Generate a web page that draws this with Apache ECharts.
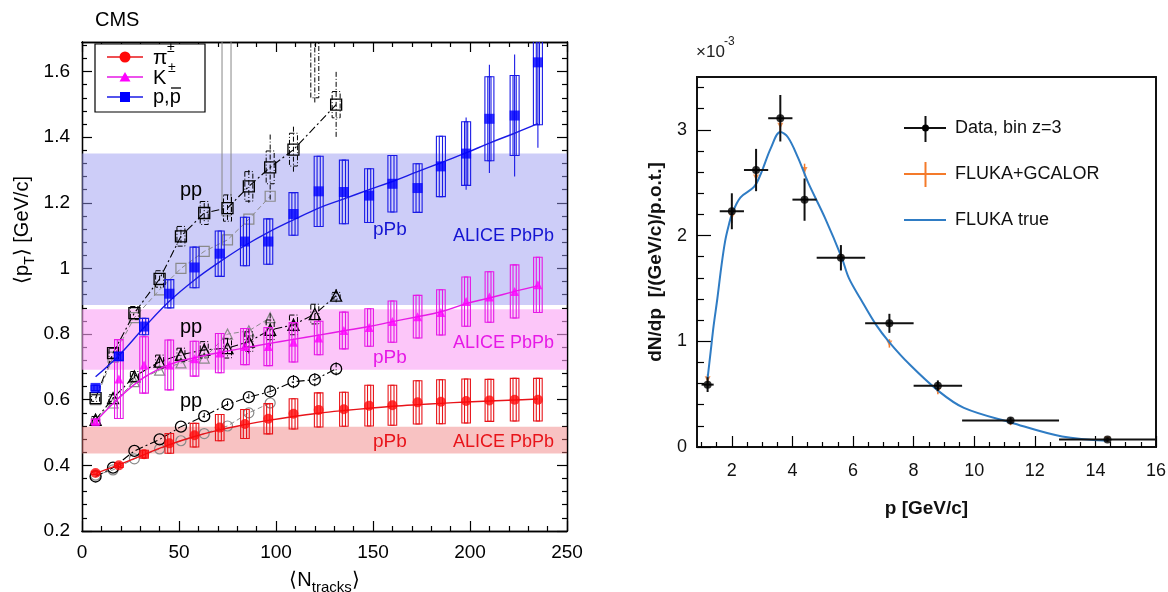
<!DOCTYPE html>
<html><head><meta charset="utf-8">
<script src="https://cdn.jsdelivr.net/npm/echarts@6/dist/echarts.min.js"></script>
<style>html,body{margin:0;padding:0;background:#fff}#c{width:1168px;height:592px}</style>
</head><body><div id="c"></div>
<script>
// ================= Left panel (CMS) =================
const nTracksPPb = [7,19,32,45,58,71,84,96,109,122,135,148,160,173,185,198,210,223,235];
const piPPb   = [0.377,0.400,0.434,0.467,0.492,0.515,0.526,0.542,0.557,0.569,0.571,0.582,0.583,0.592,0.594,0.596,0.598,0.600,0.600];
const piPPbSys= [0.005,0.006,0.012,0.030,0.036,0.040,0.044,0.046,0.046,0.052,0.052,0.062,0.061,0.066,0.067,0.067,0.064,0.065,0.065];
const kPPb    = [0.533,0.663,0.706,0.706,0.725,0.742,0.762,0.762,0.775,0.788,0.811,0.820,0.838,0.853,0.866,0.899,0.913,0.930,0.950];
const kPPbSys = [0.008,0.120,0.086,0.076,0.053,0.060,0.055,0.058,0.060,0.051,0.056,0.057,0.063,0.065,0.069,0.075,0.077,0.081,0.084];
const pPPb    = [0.636,0.732,0.823,0.923,1.003,1.045,1.082,1.082,1.166,1.235,1.233,1.222,1.258,1.245,1.311,1.350,1.456,1.466,1.628];
const pPPbSys = [0.008,0.012,0.025,0.043,0.062,0.069,0.074,0.069,0.065,0.107,0.097,0.082,0.086,0.074,0.092,0.097,0.128,0.122,0.190];
const pPPbStat= [0,0,0,0,0,0,0,0,0,0,0,0,0,0,0,0.110,0.165,0.186,0.260];
const piFit = [0.375,0.402,0.433,0.463,0.488,0.508,0.524,0.537,0.549,0.559,0.567,0.574,0.580,0.585,0.589,0.593,0.596,0.599,0.602];
const kFit  = [0.533,0.605,0.668,0.707,0.728,0.744,0.758,0.771,0.784,0.797,0.810,0.823,0.838,0.853,0.868,0.893,0.910,0.930,0.947];
const pFit  = [0.670,0.735,0.820,0.900,0.965,1.020,1.070,1.110,1.148,1.184,1.212,1.240,1.265,1.295,1.322,1.352,1.382,1.412,1.441];

const nTracksPP = [7,16,27,40,51,63,75,86,97,109,120,131];
const piPP     = [0.366,0.393,0.444,0.479,0.518,0.550,0.586,0.608,0.625,0.655,0.661,0.694];
const piPPStat = [0,0,0,0,0,0.010,0.010,0.010,0.015,0.020,0.020,0.020];
const kPP      = [0.539,0.605,0.671,0.716,0.737,0.752,0.757,0.777,0.813,0.828,0.861,0.917];
const kPPSys   = [0.010,0.010,0.015,0.020,0.020,0.025,0.030,0.030,0.030,0.030,0.030,0.010];
const kPPStat  = [0,0,0.010,0.010,0.020,0.020,0.030,0.040,0.050,0.020,0.030,0.020];
const pPP      = [0.605,0.742,0.864,0.968,1.098,1.169,1.184,1.250,1.308,1.362,1.800,1.499];
const pPPSys   = [0.010,0.015,0.020,0.025,0.030,0.035,0.040,0.045,0.050,0.050,0.280,0.040];
const pPPStat  = [0,0,0,0.010,0.020,0.030,0.040,0.050,0.100,0.070,0.300,0.100];

const nTracksPP2 = [7,16,27,40,51,63,75,86,97];
const piPP2 = [0.370,0.386,0.420,0.450,0.475,0.497,0.520,0.560,0.590];
const kPP2  = [0.540,0.590,0.655,0.690,0.712,0.727,0.800,0.810,0.850];
const pPP2  = [0.600,0.730,0.850,0.935,1.000,1.052,1.087,1.150,1.220];
const tallBoxX = [74.5], tallBoxLo = [1.16], tallBoxHi = [1.95];

const bandLow  = [0.436, 0.691, 0.889];
const bandHigh = [0.518, 0.876, 1.350];

const xTicksL = [0,50,100,150,200,250];
const yTicksL = [0.2,0.4,0.6,0.8,1.0,1.2,1.4,1.6];

// ================= Right panel =================
const pCenter = [1.2,2.0,2.8,3.6,4.4,5.6,7.2,8.8,11.2,14.4];
const pHalfBin= [0.2,0.4,0.4,0.4,0.4,0.8,0.8,0.8,1.6,1.6];
const dataVal = [0.59,2.23,2.62,3.11,2.34,1.79,1.17,0.58,0.25,0.07];
const dataErr = [0.07,0.17,0.20,0.22,0.20,0.12,0.09,0.05,0.03,0.02];
const gcalVal = [0.64,2.18,2.55,3.04,2.62,1.78,0.98,0.53,0.23,0.07];
const gcalErr = [0.05,0.06,0.06,0.06,0.06,0.05,0.04,0.03,0.02,0.01];
const trueP   = [1.2,1.3,1.4,1.52,1.65,1.78,1.9,2.0,2.28,2.73,2.95,3.29,3.6,3.85,4.18,4.52,5.07,5.63,5.86,6.25,6.75,7.2,7.87,8.82,9.66,11.23,12.9,14.4];
const trueVal = [0.65,0.90,1.15,1.40,1.70,1.95,2.10,2.20,2.36,2.46,2.58,2.83,2.98,2.93,2.74,2.50,2.17,1.79,1.60,1.40,1.16,0.99,0.78,0.53,0.37,0.23,0.10,0.06];
const xTicksR = [2,4,6,8,10,12,14,16];
const yTicksR = [0,1,2,3];

// ---------- helpers ----------
const FONT = 'Liberation Sans, Arial, sans-serif';
function range(a, b, s, skip) { const r=[]; for (let v=a; v<=b+1e-9; v+=s) { const q=Math.round(v*1000)/1000; if(!skip.some(k=>Math.abs(k-q)<1e-6)) r.push(q);} return r; }
const xMinorL = range(0,250,10,xTicksL);
const yMinorL = range(0.2,1.68,0.04,yTicksL);
const xMinorR = range(1,16,0.5,xTicksR);
const yMinorR = range(0,3.4,0.2,yTicksR);

function boxRender(color, halfW, innerW, dash, lw) {
  return function (params, api) {
    const x = api.value(0), y = api.value(1), sys = api.value(2), stat = api.value(3);
    const c = api.coord([x, y]);
    const ch = [];
    const st = {stroke: color, fill: null, lineWidth: lw, lineDash: dash};
    if (sys > 0) {
      const t = api.coord([x, y + sys])[1], b = api.coord([x, y - sys])[1];
      ch.push({type:'rect', shape:{x:c[0]-halfW, y:t, width:2*halfW, height:b-t}, style:st});
      if (innerW > 0) ch.push({type:'rect', shape:{x:c[0]-innerW, y:t, width:2*innerW, height:b-t}, style:st});
    }
    if (stat > 0) {
      const t = api.coord([x, y + stat])[1], b = api.coord([x, y - stat])[1];
      ch.push({type:'line', shape:{x1:c[0], y1:t, x2:c[0], y2:b}, style:{stroke:color, lineWidth:lw, lineDash: dash}});
    }
    return {type:'group', children: ch};
  };
}
function crossRender(color, lw) {
  return function (params, api) {
    const x = api.value(0), y = api.value(1), xe = api.value(2), ye = api.value(3);
    const l = api.coord([x - xe, y]), r = api.coord([x + xe, y]);
    const t = api.coord([x, y + ye]), b = api.coord([x, y - ye]);
    const ch = [{type:'line', shape:{x1:t[0], y1:t[1], x2:b[0], y2:b[1]}, style:{stroke:color, lineWidth:lw}}];
    if (xe > 0) ch.push({type:'line', shape:{x1:l[0], y1:l[1], x2:r[0], y2:r[1]}, style:{stroke:color, lineWidth:lw}});
    return {type:'group', children: ch};
  };
}
const zip = (xs, ...cols) => xs.map((x, i) => [x, ...cols.map(c => c[i])]);
const zeros = n => new Array(n).fill(0);

function mkAxis(kind, grid, pos, min, max, ticks, len, withLabel, extra) {
  const a = {
    type:'value', gridIndex:grid, position:pos, min:min, max:max,
    axisLine:{show:true, onZero:false, lineStyle:{color:'#000', width:1.3}},
    axisTick:{show: ticks.length>0, inside:true, length:len, customValues:ticks, lineStyle:{color:'#000', width:1.2}},
    axisLabel:withLabel ? {show:true, customValues:ticks, color:'#000', fontSize:19, fontFamily:FONT, margin:12} : {show:false},
    splitLine:{show:false}
  };
  return Object.assign(a, extra || {});
}

const chart = echarts.init(document.getElementById('c'), null, {renderer:'canvas'});

const bandColors = ['rgba(240,120,120,0.45)', 'rgba(250,160,245,0.6)', 'rgba(150,150,240,0.48)'];
const T = (x, y, text, size, color, extra) => Object.assign({type:'text', z:200, x:x, y:y,
  style:Object.assign({text:text, fontSize:size, fontFamily:FONT, fill:color, verticalAlign:'middle'}, extra || {})});

const option = {
  animation:false,
  backgroundColor:'#fff',
  grid:[
    {left:82, top:42, width:485, height:489, containLabel:false, outerBoundsMode:'none'},
    {left:697, top:77, width:459, height:370, containLabel:false, outerBoundsMode:'none'}
  ],
  xAxis:[
    mkAxis('x',0,'bottom',0,250,xTicksL,10,true,{
      name:'{a|⟨N}{b|tracks}{a|⟩}', nameLocation:'middle', nameGap:34,
      nameTextStyle:{rich:{a:{fontSize:20,color:'#000',fontFamily:FONT,lineHeight:30}, b:{fontSize:15,color:'#000',fontFamily:FONT,verticalAlign:'bottom'}}}
    }),
    mkAxis('x',0,'bottom',0,250,xMinorL,5,false),
    mkAxis('x',0,'top',0,250,xTicksL,10,false),
    mkAxis('x',0,'top',0,250,xMinorL,5,false),
    mkAxis('x',1,'bottom',0.85,16,xTicksR,11,true,{
      axisLabel:{show:true, customValues:xTicksR, color:'#111', fontSize:18, fontFamily:FONT, margin:15},
      axisLine:{show:true, onZero:false, lineStyle:{color:'#111', width:2}},
      name:'p [GeV/c]', nameLocation:'middle', nameGap:52,
      nameTextStyle:{fontSize:19, fontWeight:'bold', color:'#111', fontFamily:FONT}
    }),
    mkAxis('x',1,'bottom',0.85,16,xMinorR,5,false,{axisLine:{show:true,onZero:false,lineStyle:{color:'#111',width:2}}}),
    mkAxis('x',1,'top',0.85,16,[],0,false,{axisLine:{show:true,onZero:false,lineStyle:{color:'#111',width:2}}})
  ],
  yAxis:[
    mkAxis('y',0,'left',0.2,1.69,yTicksL,10,true),
    mkAxis('y',0,'left',0.2,1.69,yMinorL,5,false),
    mkAxis('y',0,'right',0.2,1.69,yTicksL,10,false),
    mkAxis('y',0,'right',0.2,1.69,yMinorL,5,false),
    mkAxis('y',1,'left',0,3.5,yTicksR,14,true,{
      axisLabel:{show:true, customValues:yTicksR, color:'#111', fontSize:18, fontFamily:FONT, margin:10},
      axisLine:{show:true, onZero:false, lineStyle:{color:'#111', width:2}},
      name:'dN/dp  [/(GeV/c)/p.o.t.]', nameLocation:'middle', nameGap:32, nameRotate:90,
      nameTextStyle:{fontSize:19, fontWeight:'bold', color:'#111', fontFamily:FONT}
    }),
    mkAxis('y',1,'left',0,3.5,yMinorR,7,false,{axisLine:{show:true,onZero:false,lineStyle:{color:'#111',width:2}}}),
    mkAxis('y',1,'right',0,3.5,[],0,false,{axisLine:{show:true,onZero:false,lineStyle:{color:'#111',width:2}}})
  ],
  series:[
    {type:'line', name:'ALICE PbPb', xAxisIndex:0, yAxisIndex:0, data:[], z:1, silent:true,
     markArea:{silent:true, data: bandLow.map((lo,i)=>[{yAxis:lo, itemStyle:{color:bandColors[i]}},{yAxis:bandHigh[i]}])}},
    {type:'custom', name:'pp other tall', xAxisIndex:0, yAxisIndex:0, clip:true, z:2,
     data: zip(tallBoxX, tallBoxLo, tallBoxHi),
     renderItem:function(p, api){ const x=api.value(0); const lo=api.coord([x,api.value(1)]), hi=api.coord([x,api.value(2)]);
       return {type:'rect', shape:{x:lo[0]-4.5, y:hi[1], width:9, height:lo[1]-hi[1]}, style:{stroke:'#888', fill:null, lineWidth:1}}; }},
    {type:'line', name:'pp2 π', xAxisIndex:0, yAxisIndex:0, data:zip(nTracksPP2, piPP2), symbol:'circle', symbolSize:10, showSymbol:true,
     lineStyle:{color:'#8a8a8a', width:1, type:[5,3]}, itemStyle:{color:'rgba(0,0,0,0)', borderColor:'#8a8a8a', borderWidth:1.2}, z:3},
    {type:'line', name:'pp2 K', xAxisIndex:0, yAxisIndex:0, data:zip(nTracksPP2, kPP2), symbol:'triangle', symbolSize:10, showSymbol:true,
     lineStyle:{color:'#8a8a8a', width:1, type:[5,3]}, itemStyle:{color:'rgba(0,0,0,0)', borderColor:'#8a8a8a', borderWidth:1.2}, z:3},
    {type:'line', name:'pp2 p', xAxisIndex:0, yAxisIndex:0, data:zip(nTracksPP2, pPP2), symbol:'rect', symbolSize:10, showSymbol:true,
     lineStyle:{color:'#8a8a8a', width:1, type:[5,3]}, itemStyle:{color:'rgba(0,0,0,0)', borderColor:'#8a8a8a', borderWidth:1.2}, z:3},
    {type:'custom', name:'pp π err', xAxisIndex:0, yAxisIndex:0, clip:true, z:4,
     data: zip(nTracksPP, piPP, zeros(12), piPPStat), renderItem: boxRender('#000',4,0,[5,2,1,2],1)},
    {type:'custom', name:'pp K err', xAxisIndex:0, yAxisIndex:0, clip:true, z:4,
     data: zip(nTracksPP, kPP, kPPSys, kPPStat), renderItem: boxRender('#000',4,0,[5,2,1,2],1)},
    {type:'custom', name:'pp p err', xAxisIndex:0, yAxisIndex:0, clip:true, z:4,
     data: zip(nTracksPP, pPP, pPPSys, pPPStat), renderItem: boxRender('#000',4,0,[5,2,1,2],1)},
    {type:'line', name:'pp π', xAxisIndex:0, yAxisIndex:0, data:zip(nTracksPP, piPP), symbol:'circle', symbolSize:11,
     lineStyle:{color:'#000', width:1.1, type:[8,3,2,3]}, itemStyle:{color:'rgba(0,0,0,0)', borderColor:'#000', borderWidth:1.3}, z:5},
    {type:'line', name:'pp K', xAxisIndex:0, yAxisIndex:0, data:zip(nTracksPP, kPP), symbol:'triangle', symbolSize:11,
     lineStyle:{color:'#000', width:1.1, type:[8,3,2,3]}, itemStyle:{color:'rgba(0,0,0,0)', borderColor:'#000', borderWidth:1.3}, z:5},
    {type:'line', name:'pp p', xAxisIndex:0, yAxisIndex:0, data:zip(nTracksPP, pPP).filter(d=>d[1]<1.69), symbol:'rect', symbolSize:11,
     lineStyle:{color:'#000', width:1.1, type:[8,3,2,3]}, itemStyle:{color:'rgba(0,0,0,0)', borderColor:'#000', borderWidth:1.3}, z:5},
    {type:'custom', name:'π pPb sys', xAxisIndex:0, yAxisIndex:0, clip:true, z:6,
     data: zip(nTracksPPb, piPPb, piPPbSys, zeros(19)), renderItem: boxRender('#e8141a',4.3,1.6,null,1.1)},
    {type:'custom', name:'K pPb sys', xAxisIndex:0, yAxisIndex:0, clip:true, z:6,
     data: zip(nTracksPPb, kPPb, kPPbSys, zeros(19)), renderItem: boxRender('#e619e6',4.3,1.6,null,1.1)},
    {type:'custom', name:'p pPb sys', xAxisIndex:0, yAxisIndex:0, clip:true, z:6,
     data: zip(nTracksPPb, pPPb, pPPbSys, pPPbStat), renderItem: boxRender('#1a1ae6',4.5,1.6,null,1.1)},
    {type:'line', name:'π±', xAxisIndex:0, yAxisIndex:0, data:zip(nTracksPPb, piFit), smooth:0.4, showSymbol:false, symbol:'none',
     lineStyle:{color:'#e8141a', width:1.4}, z:7},
    {type:'line', name:'K±', xAxisIndex:0, yAxisIndex:0, data:zip(nTracksPPb, kFit), smooth:0.4, showSymbol:false, symbol:'none',
     lineStyle:{color:'#e619e6', width:1.4}, z:7},
    {type:'line', name:'p,p̄', xAxisIndex:0, yAxisIndex:0, data:zip(nTracksPPb, pFit), smooth:0.4, showSymbol:false, symbol:'none',
     lineStyle:{color:'#1a1ae6', width:1.4}, z:7},
    {type:'scatter', name:'π pPb', xAxisIndex:0, yAxisIndex:0, data:zip(nTracksPPb, piPPb), symbol:'circle', symbolSize:10, itemStyle:{color:'#ff0a0a'}, z:8},
    {type:'scatter', name:'K pPb', xAxisIndex:0, yAxisIndex:0, data:zip(nTracksPPb, kPPb), symbol:'triangle', symbolSize:9, itemStyle:{color:'#ff00ff'}, z:8},
    {type:'scatter', name:'p pPb', xAxisIndex:0, yAxisIndex:0, data:zip(nTracksPPb, pPPb), symbol:'rect', symbolSize:10, itemStyle:{color:'#0000ff'}, z:8},

    {type:'custom', name:'FLUKA+GCALOR err', xAxisIndex:4, yAxisIndex:4, clip:true, z:3,
     data: zip(pCenter, gcalVal, zeros(10), gcalErr), renderItem: crossRender('#f47a2a',1.5)},
    {type:'scatter', name:'FLUKA+GCALOR', xAxisIndex:4, yAxisIndex:4, data:zip(pCenter, gcalVal), symbol:'triangle', symbolRotate:180, symbolSize:6,
     itemStyle:{color:'#f47a2a'}, z:3},
    {type:'line', name:'FLUKA true', xAxisIndex:4, yAxisIndex:4, data:zip(trueP, trueVal), smooth:0.35, showSymbol:false, symbol:'none',
     lineStyle:{color:'#2f7cc4', width:2}, z:4},
    {type:'custom', name:'Data err', xAxisIndex:4, yAxisIndex:4, clip:true, z:5,
     data: zip(pCenter, dataVal, pHalfBin, dataErr), renderItem: crossRender('#111',2)},
    {type:'scatter', name:'Data, bin z=3', xAxisIndex:4, yAxisIndex:4, data:zip(pCenter, dataVal), symbol:'circle', symbolSize:8,
     itemStyle:{color:'#000'}, z:6}
  ],
  graphic:[
    T(95, 20, 'CMS', 20, '#000'),
    {type:'text', z:200, x:22, y:230, rotation:Math.PI/2, style:{text:'{a|⟨p}{b|T}{a|⟩ [GeV/c]}', align:'center', verticalAlign:'middle',
      rich:{a:{fontSize:20, fontFamily:FONT, fill:'#000', lineHeight:30}, b:{fontSize:14, fontFamily:FONT, fill:'#000', verticalAlign:'bottom'}}}},
    {type:'rect', z:100, shape:{x:95, y:44, width:110, height:68}, style:{fill:'#fff', stroke:'#000', lineWidth:1.2}},
    {type:'line', z:101, shape:{x1:107,y1:57,x2:143,y2:57}, style:{stroke:'#e8141a', lineWidth:1.4}},
    {type:'circle', z:101, shape:{cx:125,cy:57,r:5.5}, style:{fill:'#ff0a0a'}},
    T(153, 58, 'π', 21, '#000'),
    T(167, 48, '±', 14, '#000'),
    {type:'line', z:101, shape:{x1:107,y1:77,x2:143,y2:77}, style:{stroke:'#e619e6', lineWidth:1.4}},
    {type:'polygon', z:101, shape:{points:[[125,72],[130.5,81.5],[119.5,81.5]]}, style:{fill:'#ff00ff'}},
    T(153, 78, 'K', 20, '#000'),
    T(168, 68, '±', 14, '#000'),
    {type:'line', z:101, shape:{x1:107,y1:97,x2:143,y2:97}, style:{stroke:'#1a1ae6', lineWidth:1.4}},
    {type:'rect', z:101, shape:{x:120,y:92,width:10,height:10}, style:{fill:'#0000ff'}},
    T(153, 97, 'p,p', 20, '#000'),
    {type:'line', z:201, shape:{x1:171,y1:88,x2:181,y2:88}, style:{stroke:'#000', lineWidth:1.3}},
    T(180, 190, 'pp', 20, '#000'),
    T(180, 327, 'pp', 20, '#000'),
    T(180, 401, 'pp', 20, '#000'),
    T(373, 230, 'pPb', 19, '#1414d2'),
    T(554, 236, 'ALICE PbPb', 18, '#1414d2', {align:'right'}),
    T(373, 358, 'pPb', 19, '#e619e6'),
    T(554, 343, 'ALICE PbPb', 18, '#e619e6', {align:'right'}),
    T(373, 442, 'pPb', 19, '#e8141a'),
    T(554, 442, 'ALICE PbPb', 18, '#e8141a', {align:'right'}),
    T(696, 52, '×10', 17, '#222'),
    T(724, 42, '-3', 12, '#222'),
    {type:'line', z:200, shape:{x1:904,y1:128,x2:946,y2:128}, style:{stroke:'#111', lineWidth:2}},
    {type:'line', z:200, shape:{x1:925.5,y1:116,x2:925.5,y2:142}, style:{stroke:'#111', lineWidth:2}},
    {type:'circle', z:200, shape:{cx:925.5,cy:128,r:3.5}, style:{fill:'#000'}},
    T(955, 128, 'Data, bin z=3', 18, '#111'),
    {type:'line', z:200, shape:{x1:904,y1:174,x2:946,y2:174}, style:{stroke:'#f47a2a', lineWidth:2}},
    {type:'line', z:200, shape:{x1:925.5,y1:162,x2:925.5,y2:187}, style:{stroke:'#f47a2a', lineWidth:2}},
    T(955, 174, 'FLUKA+GCALOR', 18, '#111'),
    {type:'line', z:200, shape:{x1:904,y1:220,x2:946,y2:220}, style:{stroke:'#2f7cc4', lineWidth:2}},
    T(955, 220, 'FLUKA true', 18, '#111')
  ]
};
chart.setOption(option);
</script>
</body></html>
